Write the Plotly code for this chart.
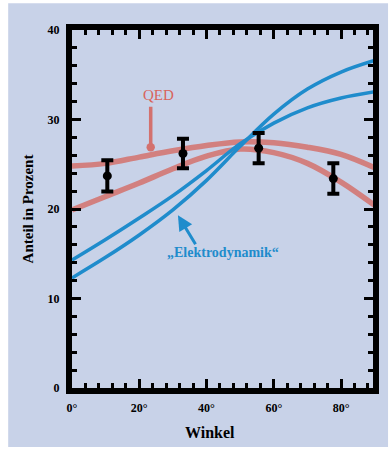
import plotly.graph_objects as go

# ---- data ----
angle = [0, 10, 20, 30, 40, 50, 60, 70, 80, 90]
qed_upper = [24.8, 25.1, 25.8, 26.5, 27.1, 27.5, 27.4, 26.9, 26.1, 24.6]
qed_lower = [19.9, 21.4, 22.9, 24.5, 25.9, 26.7, 26.3, 25.1, 23.0, 20.4]
ed_flat = [14.3, 16.6, 19.0, 21.5, 24.3, 27.3, 29.6, 31.3, 32.4, 33.1]
ed_steep = [12.3, 14.6, 17.1, 19.9, 23.2, 27.0, 30.6, 33.4, 35.3, 36.6]

meas_angle = [10.5, 33.0, 55.5, 77.7]
meas_value = [23.7, 26.2, 26.8, 23.4]
meas_error = [1.75, 1.65, 1.7, 1.7]

x_ticks = [0, 20, 40, 60, 80]
x_tick_labels = ["0°", "20°", "40°", "60°", "80°"]
y_ticks = [0, 10, 20, 30, 40]
y_tick_labels = ["0", "10", "20", "30", "40"]

RED = "rgba(214,96,86,0.72)"
BLUE = "#1f8ccc"
SERIF = "Liberation Serif, Times New Roman, serif"

fig = go.Figure()

for ys in (qed_upper, qed_lower):
    fig.add_trace(go.Scatter(x=angle, y=ys, mode="lines",
                             line=dict(color=RED, width=5.5, shape="spline"),
                             showlegend=False, hoverinfo="skip"))
for ys in (ed_flat, ed_steep):
    fig.add_trace(go.Scatter(x=angle, y=ys, mode="lines",
                             line=dict(color=BLUE, width=3.5, shape="spline"),
                             showlegend=False, hoverinfo="skip"))

fig.add_trace(go.Scatter(
    x=meas_angle, y=meas_value, mode="markers",
    marker=dict(color="black", size=9, symbol="circle"),
    error_y=dict(type="data", array=meas_error, color="black",
                 thickness=4, width=6),
    showlegend=False))

# panel background
fig.add_shape(type="rect", xref="paper", yref="paper",
              x0=-0.212, x1=1.05, y0=-0.165, y1=1.075,
              fillcolor="#c8d2e8", line=dict(width=0), layer="below")

fig.add_annotation(x=25.7, y=32.7, xref="x", yref="y", text="QED",
                   showarrow=False,
                   font=dict(family=SERIF, size=15, color="#d8645c"))
fig.add_annotation(x=23.4, y=26.9, ax=23.4, ay=31.6, axref="x", ayref="y",
                   xref="x", yref="y", text="", showarrow=True,
                   arrowhead=6, arrowsize=0.6, arrowwidth=3.5,
                   arrowcolor="rgba(214,90,80,0.8)")

fig.add_annotation(x=44.8, y=15.1, xref="x", yref="y",
                   text="<b>„Elektrodynamik“</b>", showarrow=False,
                   font=dict(family=SERIF, size=14, color=BLUE))
fig.add_annotation(x=31.5, y=19.3, ax=37.0, ay=15.9, axref="x", ayref="y",
                   xref="x", yref="y", text="", showarrow=True,
                   arrowhead=2, arrowsize=1, arrowwidth=3, arrowcolor=BLUE)

fig.add_annotation(x=0.46, y=-0.123, xref="paper", yref="paper",
                   xanchor="center", yanchor="middle",
                   text="<b>Winkel</b>", showarrow=False,
                   font=dict(family=SERIF, size=16, color="black"))

axis_common = dict(showline=True, linewidth=6, linecolor="black",
                   mirror="allticks", ticks="inside", ticklen=9, tickwidth=3,
                   tickcolor="black", showgrid=False, zeroline=False,
                   ticklabelstandoff=4,
                   tickfont=dict(family=SERIF, size=12, color="black"))

fig.update_xaxes(range=[0, 89.5], tickvals=x_ticks,
                 ticktext=["<b>%s</b>" % t for t in x_tick_labels],
                 minor=dict(dtick=4, ticks="inside", ticklen=5, tickwidth=3,
                            tickcolor="black"),
                 **axis_common)
fig.update_yaxes(range=[0, 40], tickvals=y_ticks,
                 ticktext=["<b>%s</b>" % t for t in y_tick_labels],
                 minor=dict(dtick=2, ticks="inside", ticklen=5, tickwidth=3,
                            tickcolor="black"),
                 title=dict(text="<b>Anteil in Prozent</b>", standoff=12,
                            font=dict(family=SERIF, size=15, color="black")),
                 **axis_common)

fig.update_layout(width=391, height=450,
                  margin=dict(l=72, r=13, t=30, b=62),
                  paper_bgcolor="white", plot_bgcolor="#e2e5f1",
                  font=dict(family=SERIF, color="black"))

fig.write_html("out.html")
